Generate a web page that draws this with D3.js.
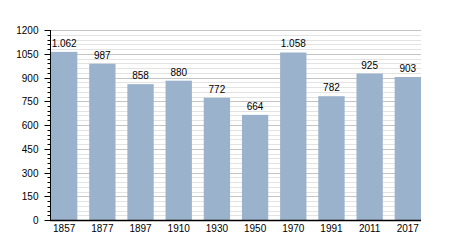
<!DOCTYPE html>
<html>
<head>
<meta charset="utf-8">
<script src="https://cdn.jsdelivr.net/npm/d3@7"></script>
<style>
  body { margin: 0; background: #fff; }
  text { font-family: "Liberation Sans", Arial, sans-serif; font-size: 10px; fill: #000; }
</style>
</head>
<body>
<svg id="chart" width="450" height="250"></svg>
<script>
// population by census year
const years = ["1857", "1877", "1897", "1910", "1930", "1950", "1970", "1991", "2011", "2017"];
const population = [1062, 987, 858, 880, 772, 664, 1058, 782, 925, 903];
const yTicks = [0, 150, 300, 450, 600, 750, 900, 1050, 1200];

const plotLeft = 50, plotRight = 421, plotTop = 30, plotBottom = 220;

const svg = d3.select("#chart");

const x = d3.scaleBand()
    .domain(years)
    .range([plotLeft + 1, plotRight])
    .paddingInner(0.31)
    .paddingOuter(0);

const y = d3.scaleLinear()
    .domain([0, 1200])
    .range([plotBottom, plotTop]);

// minor grid every 30
svg.append("g")
    .selectAll("line")
    .data(d3.range(30, 1201, 30).filter(v => v % 150 !== 0))
    .enter()
    .append("line")
    .attr("x1", plotLeft)
    .attr("x2", plotRight)
    .attr("y1", d => Math.round(y(d)) + 0.5)
    .attr("y2", d => Math.round(y(d)) + 0.5)
    .style("stroke", "#e3e3e3")
    .style("stroke-width", 1);

// major grid
svg.append("g")
    .selectAll("line")
    .data(yTicks.slice(1))
    .enter()
    .append("line")
    .attr("x1", plotLeft)
    .attr("x2", plotRight)
    .attr("y1", d => Math.round(y(d)) + 0.5)
    .attr("y2", d => Math.round(y(d)) + 0.5)
    .style("stroke", "#c4c4c4")
    .style("stroke-width", 1);

svg.append("g")
    .selectAll("rect")
    .data(population)
    .enter()
    .append("rect")
    .attr("x", (d, i) => x(years[i]))
    .attr("width", x.bandwidth())
    .attr("y", d => y(d))
    .attr("height", d => plotBottom - y(d))
    .attr("fill", "#9bb2cc");

svg.append("g")
    .selectAll("text")
    .data(population)
    .enter()
    .append("text")
    .attr("x", (d, i) => x(years[i]) + x.bandwidth() / 2)
    .attr("y", d => y(d) - 5)
    .attr("text-anchor", "middle")
    .text(d => d3.format(",")(d).replace(",", "."));

// y axis with minor ticks
const yAxis = svg.append("g")
    .attr("transform", `translate(${plotLeft + 0.5},0)`);

yAxis.append("line")
    .attr("y1", plotTop)
    .attr("y2", plotBottom)
    .style("stroke", "#000");

yAxis.selectAll(".minor")
    .data(d3.range(0, 1201, 30))
    .enter()
    .append("line")
    .attr("class", "minor")
    .attr("x1", -3)
    .attr("x2", 0)
    .attr("y1", d => Math.round(y(d)) + 0.5)
    .attr("y2", d => Math.round(y(d)) + 0.5)
    .style("stroke", "#000");

yAxis.selectAll(".major")
    .data(yTicks)
    .enter()
    .append("line")
    .attr("class", "major")
    .attr("x1", -6)
    .attr("x2", 0)
    .attr("y1", d => Math.round(y(d)) + 0.5)
    .attr("y2", d => Math.round(y(d)) + 0.5)
    .style("stroke", "#000");

yAxis.selectAll("text")
    .data(yTicks)
    .enter()
    .append("text")
    .attr("x", -12)
    .attr("y", d => y(d) + 4)
    .attr("text-anchor", "end")
    .text(d => d);

// x axis
svg.append("line")
    .attr("x1", plotLeft)
    .attr("x2", plotRight)
    .attr("y1", plotBottom + 0.5)
    .attr("y2", plotBottom + 0.5)
    .style("stroke", "#000")
    .style("stroke-width", 1.5);

svg.append("g")
    .selectAll("text")
    .data(years)
    .enter()
    .append("text")
    .attr("x", d => x(d) + x.bandwidth() / 2)
    .attr("y", plotBottom + 12)
    .attr("text-anchor", "middle")
    .text(d => d);
</script>
</body>
</html>
